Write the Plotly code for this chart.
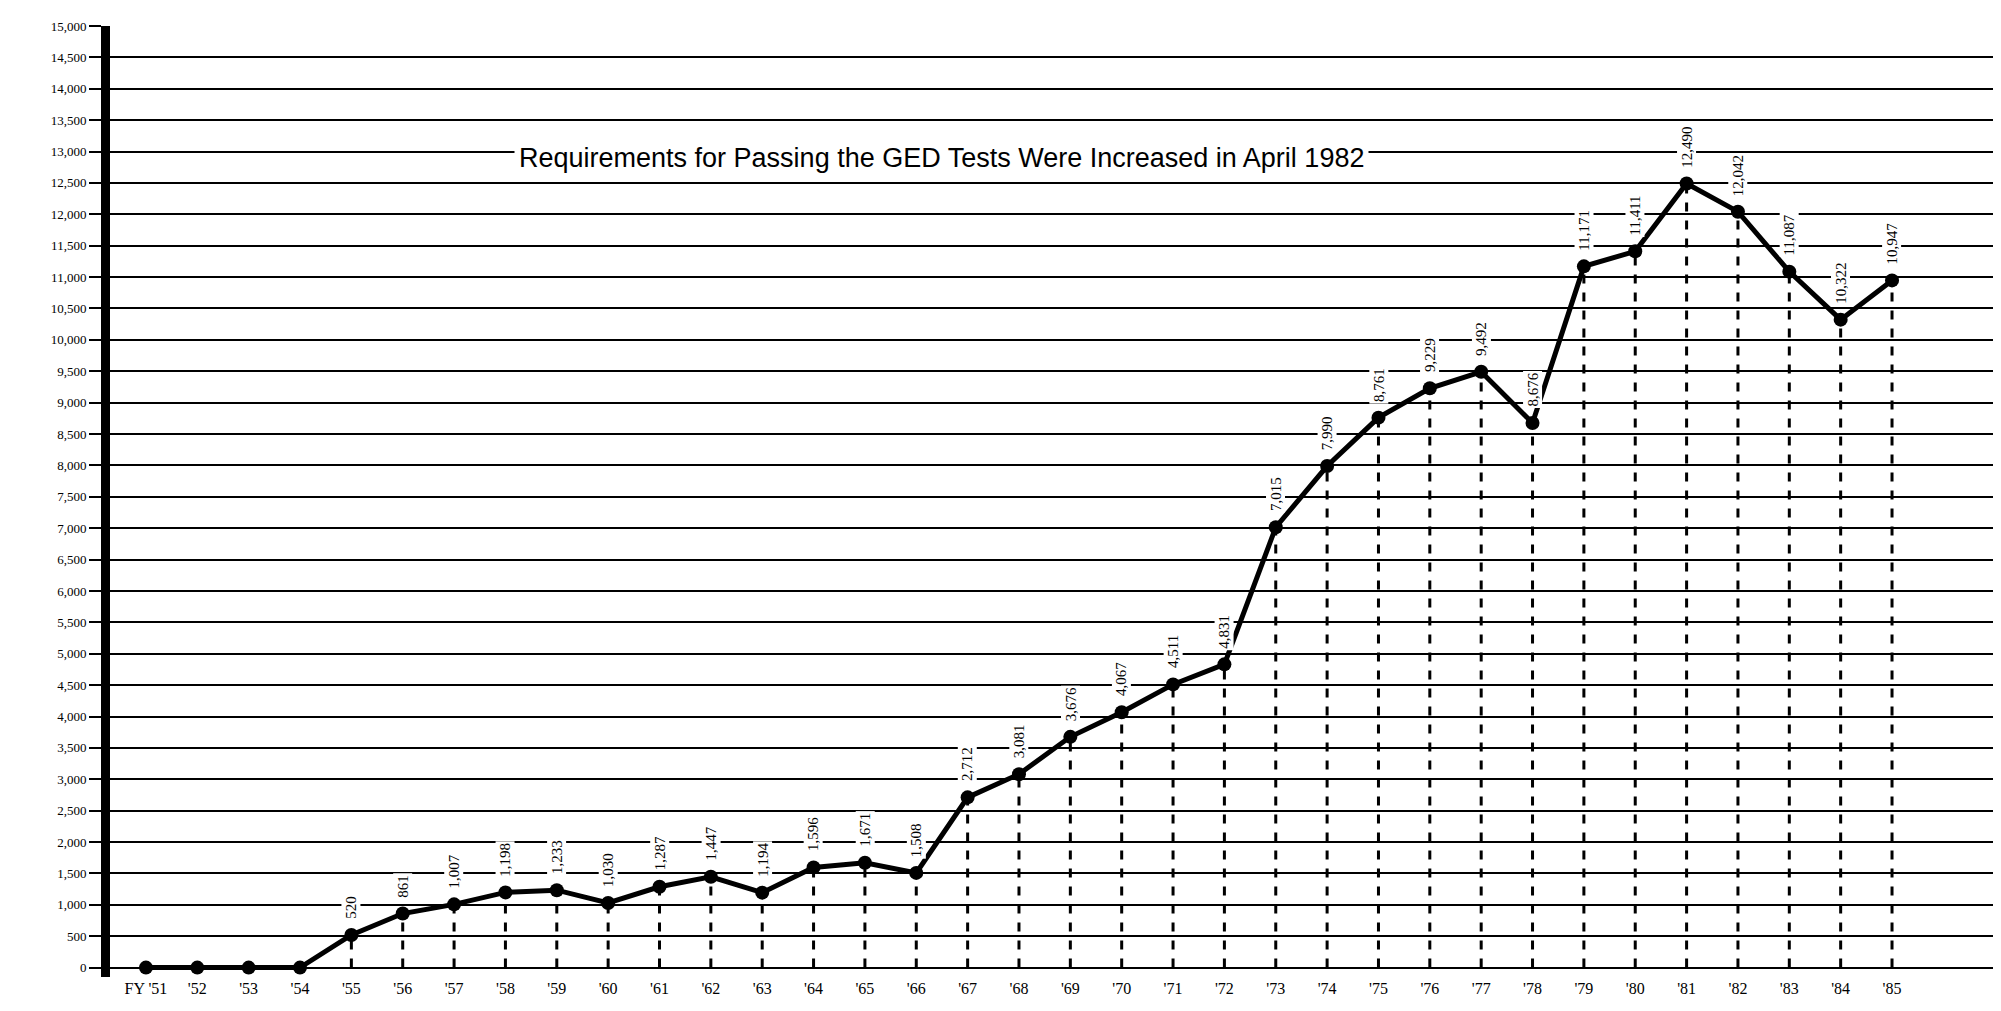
import plotly.graph_objects as go

years = ["'51", "'52", "'53", "'54", "'55", "'56", "'57", "'58", "'59", "'60",
         "'61", "'62", "'63", "'64", "'65", "'66", "'67", "'68", "'69", "'70",
         "'71", "'72", "'73", "'74", "'75", "'76", "'77", "'78", "'79", "'80",
         "'81", "'82", "'83", "'84", "'85"]
tick_labels = ["FY '51"] + years[1:]
values = [0, 0, 0, 0, 520, 861, 1007, 1198, 1233, 1030,
          1287, 1447, 1194, 1596, 1671, 1508, 2712, 3081, 3676, 4067,
          4511, 4831, 7015, 7990, 8761, 9229, 9492, 8676, 11171, 11411,
          12490, 12042, 11087, 10322, 10947]
y_ticks = list(range(0, 15001, 500))
y_tick_labels = [f"{v:,}" for v in y_ticks]
title_text = "Requirements for Passing the GED Tests Were Increased in April 1982"

xi = list(range(len(years)))

fig = go.Figure()

# vertical dashed drop lines
dx, dy = [], []
for i, v in zip(xi, values):
    if v > 0:
        dx += [i, i, None]
        dy += [0, v, None]
fig.add_trace(go.Scatter(x=dx, y=dy, mode="lines",
                         line=dict(color="black", width=3, dash="dash"),
                         hoverinfo="skip", showlegend=False))

fig.add_trace(go.Scatter(x=xi, y=values, mode="lines+markers",
                         line=dict(color="black", width=5),
                         marker=dict(color="black", size=14),
                         showlegend=False, cliponaxis=False))

for i, v in zip(xi, values):
    if v > 0:
        label = f"{v:,}"
        fig.add_annotation(x=i, y=v, text=label, textangle=-90,
                           showarrow=False, yshift=14, yanchor="bottom",
                           font=dict(family="Liberation Serif", size=15, color="black"),
                           bgcolor="white")

fig.add_annotation(x=15.5, y=12900, text=title_text, showarrow=False,
                   font=dict(family="Liberation Sans Narrow, Liberation Sans, sans-serif",
                             size=27, color="black"),
                   bgcolor="white", borderpad=4)

fig.update_layout(
    width=2001, height=1011,
    margin=dict(l=102, r=4, t=18, b=42),
    paper_bgcolor="white", plot_bgcolor="white",
    xaxis=dict(range=[-0.7, 36.2], tickmode="array", tickvals=xi,
               ticktext=tick_labels, showgrid=False, zeroline=False,
               showline=False, ticks="",
               tickfont=dict(family="Liberation Serif", size=16, color="black")),
    yaxis=dict(range=[-150, 15000], tickmode="array", tickvals=y_ticks,
               ticktext=y_tick_labels, showgrid=True, gridcolor="black",
               gridwidth=2, zeroline=False, showline=True, linecolor="black",
               linewidth=9, ticks="outside", ticklen=12, tickwidth=2,
               tickcolor="black",
               tickfont=dict(family="Liberation Serif", size=13, color="black")),
)

fig.write_html("out.html")
